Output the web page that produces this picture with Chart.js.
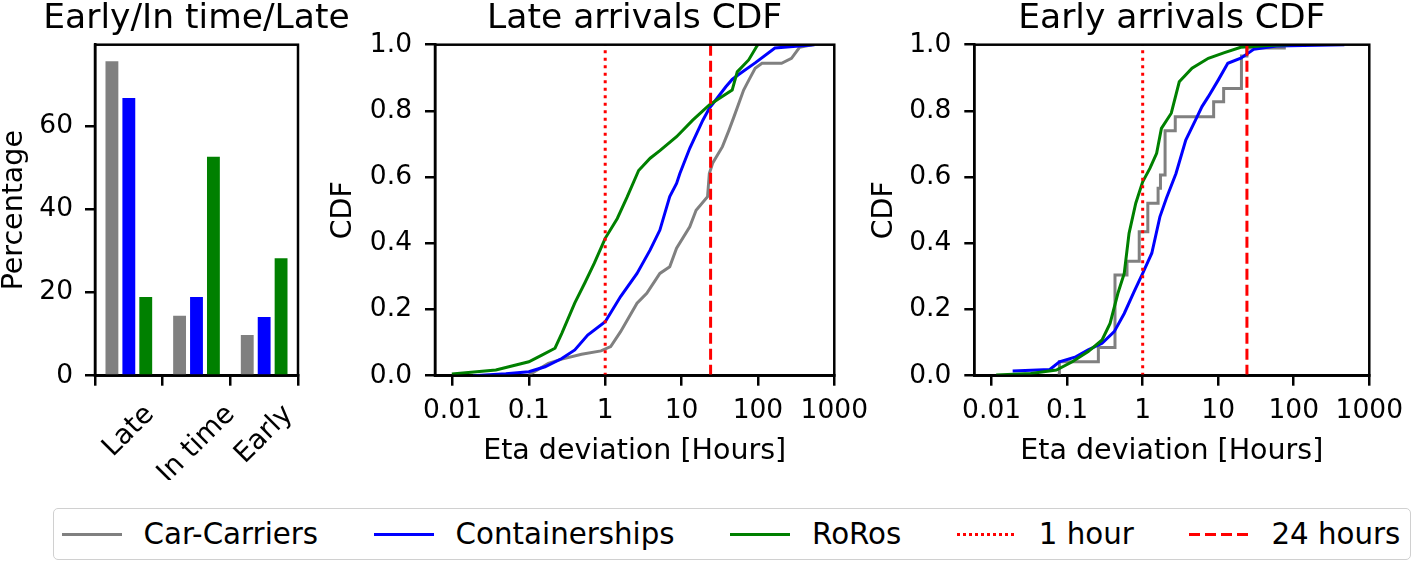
<!DOCTYPE html>
<html>
<head>
<meta charset="utf-8">
<title>ETA deviation</title>
<script src="https://cdn.jsdelivr.net/npm/chart.js@4.4.1/dist/chart.umd.min.js"></script>
<style>
    body { margin: 0; background: #fff; }
    #page { position: relative; width: 1418px; height: 562px; overflow: hidden; font-family: "DejaVu Sans", sans-serif; }
    .panel { position: absolute; top: 0; height: 480px; }
    #legend {
        position: absolute; left: 53px; top: 508px; width: 1358px; height: 52px;
        box-sizing: border-box; border: 1.5px solid #d0d0d0; border-radius: 5px;
        display: flex; align-items: center; padding-left: 7.5px;
        font-size: 29.3px; color: #000;
    }
    .item { display: flex; align-items: center; margin-right: 55.5px; }
    .item:last-child { margin-right: 0; }
    .sample { width: 60px; height: 3px; margin-right: 22px; }
</style>
</head>
<body>
<div id="page">
    <div class="panel" style="left:0; width:360px;"><canvas id="barChart"></canvas></div>
    <div class="panel" style="left:325px; width:555px;"><canvas id="lateChart"></canvas></div>
    <div class="panel" style="left:866px; width:549px;"><canvas id="earlyChart"></canvas></div>

    <div id="legend">
        <div class="item"><div class="sample" style="background:#808080"></div>Car-Carriers</div>
        <div class="item"><div class="sample" style="background:#0000ff"></div>Containerships</div>
        <div class="item"><div class="sample" style="background:#008000"></div>RoRos</div>
        <div class="item"><div class="sample" style="background:repeating-linear-gradient(to right,#ff0000 0 3px,transparent 3px 6px)"></div>1 hour</div>
        <div class="item"><div class="sample" style="background:repeating-linear-gradient(to right,#ff0000 0 11px,transparent 11px 16px)"></div>24 hours</div>
    </div>
</div>

<script>
// ---- data ----
const barCategories = ["Late", "In time", "Early"];
const carCarrierPct = [75.5, 14.4, 9.8];
const containerPct = [66.7, 18.9, 14.1];
const roroPct = [18.9, 52.6, 28.2];
const pctTicks = [0, 20, 40, 60];

const hourTicks = [0.01, 0.1, 1, 10, 100, 1000];
const cdfTicks = [0, 0.2, 0.4, 0.6, 0.8, 1.0];
const thresholdHours = [1, 24];

// Late arrivals
const lateCarHours = [0.1, 0.18, 0.27, 0.49, 0.88, 1.18, 1.59, 2.61, 3.5, 5.2, 7.0, 8.6, 12.8, 15.5, 21.9, 23.1, 25.5, 34.3, 41.8, 48.5, 65, 76, 92, 113, 204, 275, 351, 515];
const lateCarCdf = [0.002, 0.037, 0.05, 0.065, 0.075, 0.088, 0.133, 0.219, 0.249, 0.309, 0.329, 0.385, 0.45, 0.5, 0.541, 0.611, 0.642, 0.692, 0.742, 0.782, 0.863, 0.893, 0.929, 0.944, 0.944, 0.959, 0.992, 1.0];

const lateContHours = [0.0186, 0.05, 0.1, 0.163, 0.27, 0.4, 0.59, 1.0, 1.59, 2.61, 3.88, 5.2, 7.0, 8.6, 9.5, 12.8, 19, 23.1, 38, 46, 56, 92, 167, 550];
const lateContCdf = [0.0, 0.006, 0.012, 0.027, 0.052, 0.078, 0.123, 0.163, 0.239, 0.309, 0.38, 0.44, 0.541, 0.581, 0.611, 0.687, 0.772, 0.808, 0.873, 0.895, 0.91, 0.945, 0.99, 1.0];

const lateRoroHours = [0.0098, 0.037, 0.1, 0.148, 0.22, 0.27, 0.4, 0.54, 0.72, 1.0, 1.44, 1.94, 2.74, 3.88, 5.2, 8.6, 14, 23.1, 30, 46, 53.6, 75.6, 97, 100];
const lateRoroCdf = [0.005, 0.017, 0.042, 0.062, 0.083, 0.128, 0.22, 0.28, 0.34, 0.415, 0.475, 0.54, 0.62, 0.657, 0.68, 0.722, 0.772, 0.818, 0.835, 0.863, 0.918, 0.954, 0.996, 1.0];

// Early arrivals
const earlyCarHours = [0.075, 0.079, 0.259, 0.43, 0.62, 0.9, 1.17, 1.6, 1.72, 1.98, 2.7, 8.7, 11.8, 20.3, 24, 75];
const earlyCarCdf = [0.005, 0.042, 0.085, 0.304, 0.346, 0.435, 0.521, 0.566, 0.606, 0.74, 0.782, 0.828, 0.868, 0.966, 0.99, 1.0];

const earlyContHours = [0.019, 0.059, 0.079, 0.13, 0.19, 0.29, 0.42, 0.57, 0.77, 1.0, 1.32, 1.69, 2.06, 2.76, 3.72, 5.0, 6.1, 7.4, 10, 13.4, 19.9, 29.5, 59, 468];
const earlyContCdf = [0.014, 0.019, 0.042, 0.057, 0.078, 0.098, 0.133, 0.188, 0.254, 0.309, 0.37, 0.48, 0.536, 0.611, 0.712, 0.772, 0.813, 0.843, 0.893, 0.944, 0.959, 0.986, 0.996, 1.0];

const earlyRoroHours = [0.0115, 0.033, 0.072, 0.117, 0.19, 0.29, 0.37, 0.47, 0.57, 0.66, 0.81, 1.0, 1.25, 1.53, 1.77, 2.39, 3.05, 4.5, 7.4, 12.1, 19.9, 53, 88];
const earlyRoroCdf = [0.002, 0.007, 0.017, 0.042, 0.073, 0.108, 0.158, 0.249, 0.309, 0.43, 0.521, 0.586, 0.627, 0.672, 0.747, 0.793, 0.888, 0.929, 0.959, 0.976, 0.992, 0.998, 1.0];

// ---- styling ----
Chart.defaults.color = "#000";
Chart.defaults.font.family = "'DejaVu Sans', sans-serif";

const tickFont = { size: 26.5, lineHeight: 1 };
const labelFont = { size: 28.5, lineHeight: 1 };
const axisGrid = { drawOnChartArea: false, drawTicks: true, tickLength: 10, lineWidth: 2.5, color: "#000" };
const axisBorder = { display: true, color: "#000", width: 2.5 };

function points(xs, ys) {
    return xs.map((x, i) => ({ x: x, y: ys[i] }));
}

// box around the plot area + title centred over it
const panelFrame = {
    id: "panelFrame",
    afterDatasetsDraw(chart, args, opts) {
        const ctx = chart.ctx;
        const a = chart.chartArea;
        ctx.save();
        ctx.strokeStyle = "#000";
        ctx.lineWidth = 2.5;
        ctx.strokeRect(a.left, a.top, a.right - a.left, a.bottom - a.top);
        ctx.fillStyle = "#000";
        ctx.font = "34.5px 'DejaVu Sans'";
        ctx.textAlign = "center";
        ctx.textBaseline = "alphabetic";
        ctx.fillText(opts.text, (a.left + a.right) / 2, 28);
        ctx.restore();
    }
};

// matplotlib style 45 degree labels, centred on the tick
const slantedLabels = {
    id: "slantedLabels",
    afterDraw(chart) {
        const ctx = chart.ctx;
        const xs = chart.scales.x;
        ctx.save();
        ctx.font = "27.5px 'DejaVu Sans'";
        ctx.fillStyle = "#000";
        ctx.textAlign = "center";
        ctx.textBaseline = "middle";
        chart.data.labels.forEach((lab, i) => {
            const w = ctx.measureText(lab).width;
            const x = xs.getPixelForValue(i);
            const y = xs.top + 27 + (w + 21) * Math.SQRT1_2 / 2;
            ctx.save();
            ctx.translate(x, y);
            ctx.rotate(-Math.PI / 4);
            ctx.fillText(lab, 0, 0);
            ctx.restore();
        });
        ctx.restore();
    }
};

// Bar chart
new Chart(document.getElementById("barChart"), {
    type: "bar",
    data: {
        labels: barCategories,
        datasets: [
            { label: "Car-Carriers", data: carCarrierPct, backgroundColor: "#808080" },
            { label: "Containerships", data: containerPct, backgroundColor: "#0000ff" },
            { label: "RoRos", data: roroPct, backgroundColor: "#008000" }
        ]
    },
    options: {
        responsive: true,
        maintainAspectRatio: false,
        animation: false,
        categoryPercentage: 0.75,
        barPercentage: 0.76,
        layout: { padding: { top: 44.7, right: 62, left: 0, bottom: 0 } },
        plugins: {
            legend: { display: false },
            tooltip: { enabled: false },
            panelFrame: { text: "Early/In time/Late" }
        },
        scales: {
            x: {
                afterFit: s => { s.height = 104.3; },
                ticks: { display: false },
                grid: axisGrid,
                border: axisBorder
            },
            y: {
                min: 0,
                max: 79.5,
                afterBuildTicks: s => { s.ticks = pctTicks.map(v => ({ value: v })); },
                afterFit: s => { s.width = 95; },
                ticks: { font: tickFont, padding: 12, callback: v => String(v) },
                grid: axisGrid,
                border: axisBorder,
                title: { display: true, text: "Percentage", font: labelFont, padding: { top: 0, bottom: 0 } }
            }
        }
    },
    plugins: [panelFrame, slantedLabels]
});

// CDF charts
function cdfChart(canvasId, title, car, cont, roro, yWidth, yTitlePad) {
    new Chart(document.getElementById(canvasId), {
        type: "scatter",
        data: {
            datasets: [
                { label: "1 hour", data: points([thresholdHours[0], thresholdHours[0]], [0, 1]), borderColor: "#ff0000", borderDash: [3, 4.5], order: 0 },
                { label: "24 hours", data: points([thresholdHours[1], thresholdHours[1]], [0, 1]), borderColor: "#ff0000", borderDash: [11, 5], order: 0 },
                { label: "RoRos", data: roro, borderColor: "#008000", order: 1 },
                { label: "Containerships", data: cont, borderColor: "#0000ff", order: 2 },
                car
            ]
        },
        options: {
            responsive: true,
            maintainAspectRatio: false,
            animation: false,
            showLine: true,
            elements: {
                point: { radius: 0, hoverRadius: 0 },
                line: { borderWidth: 3, tension: 0, fill: false }
            },
            layout: { padding: { top: 44.7, right: 40, left: 0, bottom: 0 } },
            plugins: {
                legend: { display: false },
                tooltip: { enabled: false },
                panelFrame: { text: title }
            },
            scales: {
                x: {
                    type: "logarithmic",
                    min: 0.0059,
                    max: 1000,
                    afterBuildTicks: s => { s.ticks = hourTicks.map(v => ({ value: v })); },
                    afterFit: s => { s.height = 104.3; },
                    ticks: { font: tickFont, padding: 12, maxRotation: 0, autoSkip: false, callback: v => String(v) },
                    grid: axisGrid,
                    border: axisBorder,
                    title: { display: true, text: "Eta deviation [Hours]", font: labelFont, padding: { top: 0, bottom: 14.25 } }
                },
                y: {
                    min: 0,
                    max: 1,
                    afterBuildTicks: s => { s.ticks = cdfTicks.map(v => ({ value: v })); },
                    afterFit: s => { s.width = yWidth; },
                    ticks: { font: tickFont, padding: 13, callback: v => v.toFixed(1) },
                    grid: axisGrid,
                    border: axisBorder,
                    title: { display: true, text: "CDF", font: labelFont, padding: { top: yTitlePad, bottom: 0 } }
                }
            }
        },
        plugins: [panelFrame]
    });
}

cdfChart("lateChart", "Late arrivals CDF",
    { label: "Car-Carriers", data: points(lateCarHours, lateCarCdf), borderColor: "#808080", order: 3 },
    points(lateContHours, lateContCdf),
    points(lateRoroHours, lateRoroCdf),
    110, 4);

cdfChart("earlyChart", "Early arrivals CDF",
    { label: "Car-Carriers", data: points(earlyCarHours, earlyCarCdf), borderColor: "#808080", stepped: true, order: 3 },
    points(earlyContHours, earlyContCdf),
    points(earlyRoroHours, earlyRoroCdf),
    108.3, 4.5);
</script>
</body>
</html>
